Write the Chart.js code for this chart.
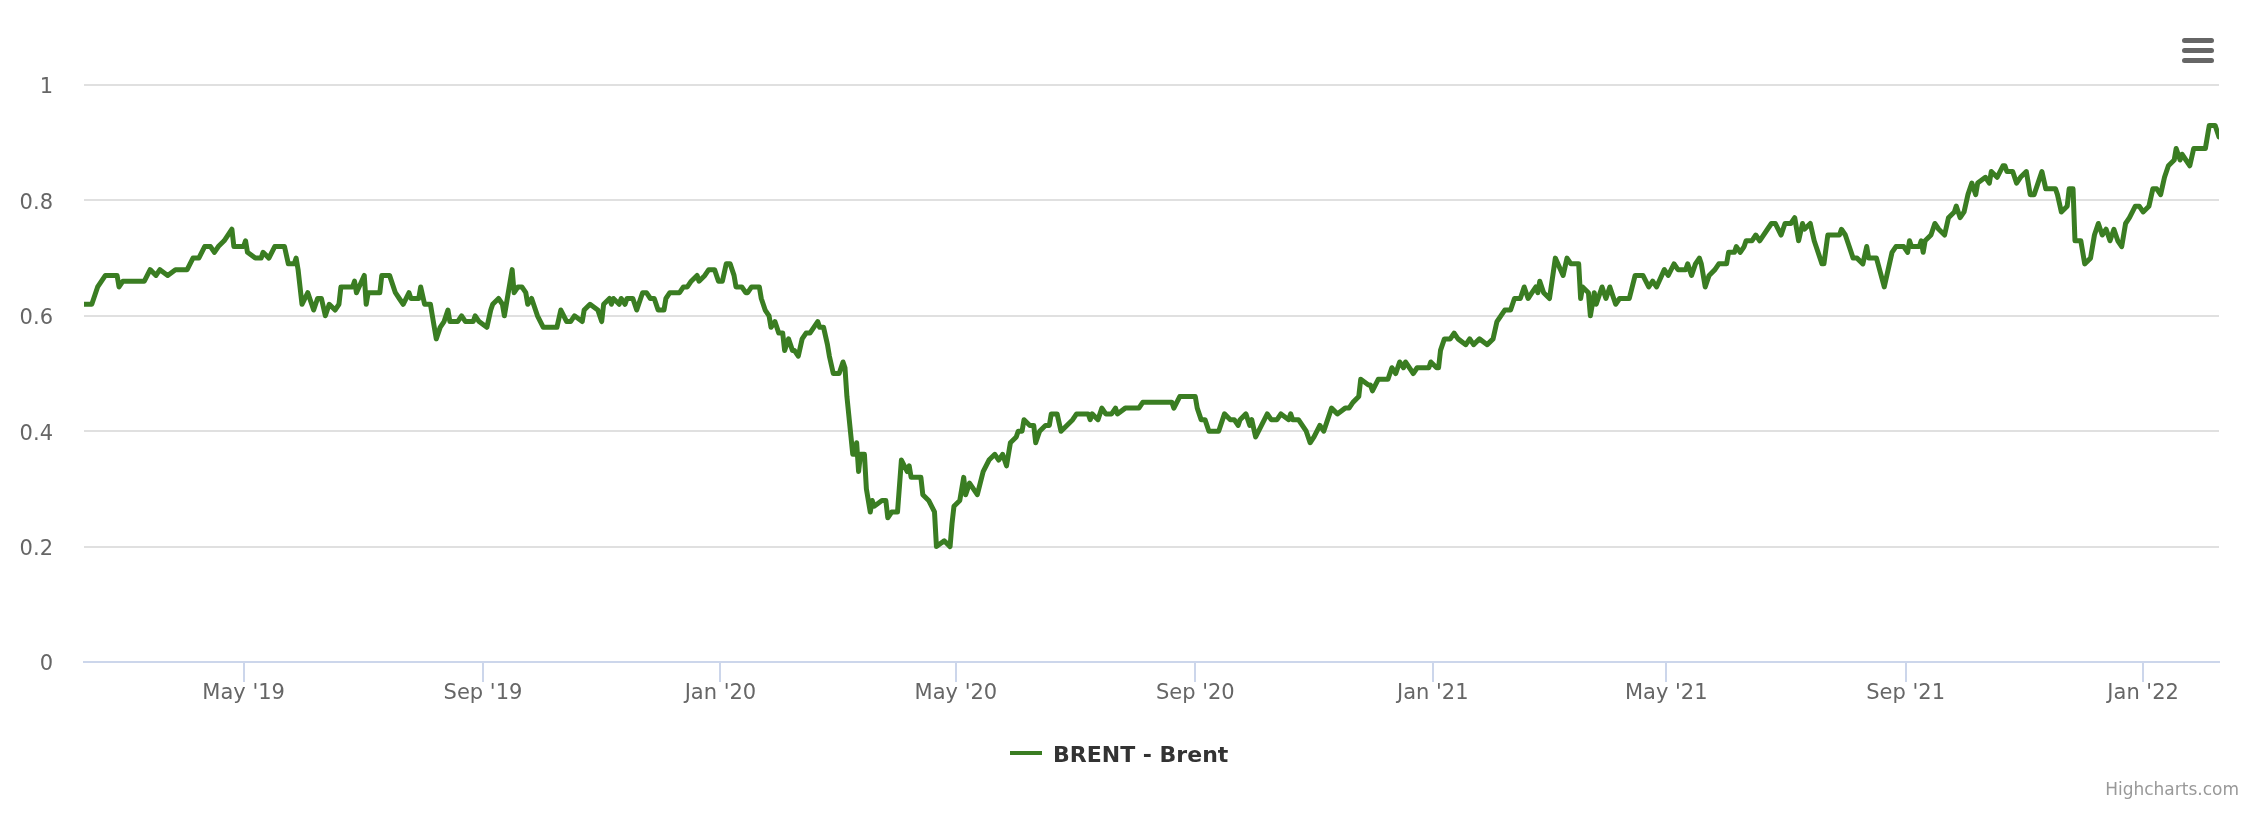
<!DOCTYPE html>
<html>
<head>
<meta charset="utf-8">
<script src="https://cdn.jsdelivr.net/npm/chart.js@4.4.1/dist/chart.umd.min.js"></script>
<style>
  html, body { margin: 0; padding: 0; background: #ffffff; }
  #wrap { position: relative; width: 2260px; height: 820px; overflow: hidden; font-family: "DejaVu Sans", sans-serif; }
  #chartBox { position: absolute; left: 0; top: 0; width: 2260px; height: 820px; }
  .bar { position: absolute; left: 2182px; width: 32px; height: 5px; border-radius: 3px; background: #666666; }
  #legSym { position: absolute; left: 1010px; top: 751px; width: 32px; height: 4px; }
  #legText { position: absolute; left: 1053px; top: 744px; font: 700 22px/22px "DejaVu Sans", sans-serif; color: #333333; white-space: nowrap; }
  #credits { position: absolute; right: 21px; top: 781px; font: 17px/17px "DejaVu Sans", sans-serif; color: #999999; white-space: nowrap; }
</style>
</head>
<body>
<div id="wrap">
  <div id="chartBox"><canvas id="c"></canvas></div>
  <div class="bar" style="top:38px"></div>
  <div class="bar" style="top:48px"></div>
  <div class="bar" style="top:58px"></div>
  <div id="legSym"></div>
  <div id="legText"></div>
  <div id="credits">Highcharts.com</div>
</div>
<script>
const seriesName = 'BRENT - Brent';
const lineColor = '#3a7d22';

const dates = [
  '2019-02-08','2019-02-12','2019-02-15','2019-02-17','2019-02-19','2019-02-25','2019-02-26','2019-02-28',
  '2019-03-11','2019-03-14','2019-03-17','2019-03-19','2019-03-23','2019-03-27',
  '2019-04-02','2019-04-05','2019-04-08','2019-04-11','2019-04-14','2019-04-16','2019-04-18','2019-04-21','2019-04-25','2019-04-26',
  '2019-05-01','2019-05-02','2019-05-03','2019-05-07','2019-05-10','2019-05-11','2019-05-14','2019-05-17','2019-05-22','2019-05-24','2019-05-27','2019-05-28','2019-05-29','2019-05-31',
  '2019-06-03','2019-06-04','2019-06-06','2019-06-08','2019-06-10','2019-06-12','2019-06-14','2019-06-17','2019-06-19','2019-06-20','2019-06-26','2019-06-27','2019-06-28',
  '2019-07-02','2019-07-03','2019-07-04','2019-07-10','2019-07-11','2019-07-15','2019-07-18','2019-07-20','2019-07-22','2019-07-25','2019-07-26','2019-07-30','2019-07-31',
  '2019-08-02','2019-08-05','2019-08-06','2019-08-08','2019-08-10','2019-08-12','2019-08-14','2019-08-15','2019-08-19','2019-08-21','2019-08-23','2019-08-27','2019-08-28','2019-08-30',
  '2019-09-03','2019-09-05','2019-09-06','2019-09-09','2019-09-11','2019-09-12','2019-09-13','2019-09-16','2019-09-17','2019-09-19','2019-09-21','2019-09-23','2019-09-24','2019-09-26','2019-09-27','2019-09-29',
  '2019-10-02','2019-10-09','2019-10-11','2019-10-14','2019-10-16','2019-10-18','2019-10-22','2019-10-23','2019-10-26','2019-10-30',
  '2019-11-01','2019-11-02','2019-11-05','2019-11-06','2019-11-07','2019-11-10','2019-11-11','2019-11-13','2019-11-14','2019-11-17','2019-11-19','2019-11-22','2019-11-24','2019-11-26','2019-11-28','2019-11-30',
  '2019-12-03','2019-12-04','2019-12-06','2019-12-11','2019-12-13','2019-12-15','2019-12-17','2019-12-20','2019-12-21','2019-12-24','2019-12-26','2019-12-29','2019-12-31',
  '2020-01-02','2020-01-04','2020-01-06','2020-01-08','2020-01-09','2020-01-12','2020-01-14','2020-01-15','2020-01-17','2020-01-21','2020-01-22','2020-01-24','2020-01-26','2020-01-27','2020-01-29','2020-01-31',
  '2020-02-02','2020-02-03','2020-02-05','2020-02-07','2020-02-08','2020-02-10','2020-02-12','2020-02-14','2020-02-16','2020-02-18','2020-02-20','2020-02-21','2020-02-23','2020-02-25','2020-02-26','2020-02-28',
  '2020-03-02','2020-03-04','2020-03-05','2020-03-06','2020-03-09','2020-03-10','2020-03-11','2020-03-12','2020-03-13','2020-03-15','2020-03-16','2020-03-18','2020-03-19','2020-03-20','2020-03-24','2020-03-26','2020-03-27','2020-03-29',
  '2020-04-01','2020-04-03','2020-04-06','2020-04-07','2020-04-08','2020-04-13','2020-04-14','2020-04-17','2020-04-20','2020-04-21','2020-04-25','2020-04-28','2020-04-29','2020-04-30',
  '2020-05-03','2020-05-05','2020-05-06','2020-05-08','2020-05-12','2020-05-15','2020-05-18','2020-05-21','2020-05-23','2020-05-25','2020-05-27','2020-05-29',
  '2020-06-01','2020-06-02','2020-06-04','2020-06-05','2020-06-08','2020-06-10','2020-06-11','2020-06-13','2020-06-16','2020-06-18','2020-06-19','2020-06-22','2020-06-24','2020-06-27','2020-06-30',
  '2020-07-02','2020-07-08','2020-07-09','2020-07-10','2020-07-13','2020-07-15','2020-07-17','2020-07-20','2020-07-22','2020-07-23','2020-07-27',
  '2020-08-03','2020-08-05','2020-08-20','2020-08-21','2020-08-24',
  '2020-09-01','2020-09-02','2020-09-04','2020-09-06','2020-09-08','2020-09-13','2020-09-16','2020-09-19','2020-09-21','2020-09-23','2020-09-24','2020-09-27','2020-09-29','2020-09-30',
  '2020-10-02','2020-10-05','2020-10-08','2020-10-10','2020-10-13','2020-10-15','2020-10-19','2020-10-20','2020-10-21','2020-10-24','2020-10-26','2020-10-28','2020-10-30',
  '2020-11-01','2020-11-04','2020-11-06','2020-11-08','2020-11-10','2020-11-13','2020-11-17','2020-11-19','2020-11-21','2020-11-24','2020-11-25','2020-11-29','2020-11-30',
  '2020-12-01','2020-12-04','2020-12-09','2020-12-11','2020-12-13','2020-12-15','2020-12-17','2020-12-18','2020-12-22','2020-12-24','2020-12-30','2020-12-31',
  '2021-01-03','2021-01-04','2021-01-05','2021-01-07','2021-01-10','2021-01-12','2021-01-14','2021-01-18','2021-01-20','2021-01-22','2021-01-25','2021-01-29',
  '2021-02-01','2021-02-03','2021-02-05','2021-02-07','2021-02-10','2021-02-12','2021-02-15','2021-02-17','2021-02-19','2021-02-21','2021-02-23','2021-02-24','2021-02-25','2021-02-27',
  '2021-03-02','2021-03-05','2021-03-09','2021-03-11','2021-03-13','2021-03-17','2021-03-18','2021-03-19','2021-03-22','2021-03-23','2021-03-25','2021-03-26','2021-03-29','2021-03-31',
  '2021-04-02','2021-04-05','2021-04-07','2021-04-12','2021-04-15','2021-04-19','2021-04-22','2021-04-24','2021-04-26','2021-04-30',
  '2021-05-02','2021-05-05','2021-05-07','2021-05-11','2021-05-12','2021-05-14','2021-05-16','2021-05-18','2021-05-19','2021-05-21','2021-05-23','2021-05-26','2021-05-28',
  '2021-06-01','2021-06-02','2021-06-05','2021-06-06','2021-06-08','2021-06-10','2021-06-11','2021-06-14','2021-06-16','2021-06-18','2021-06-22','2021-06-24','2021-06-26','2021-06-29',
  '2021-07-01','2021-07-04','2021-07-06','2021-07-08','2021-07-10','2021-07-11','2021-07-14','2021-07-16','2021-07-17','2021-07-20','2021-07-21','2021-07-23','2021-07-29','2021-07-30',
  '2021-08-01','2021-08-03','2021-08-05','2021-08-07','2021-08-10','2021-08-12','2021-08-13','2021-08-17','2021-08-21','2021-08-23','2021-08-25','2021-08-27','2021-08-31',
  '2021-09-02','2021-09-03','2021-09-04','2021-09-08','2021-09-09','2021-09-10','2021-09-11','2021-09-14','2021-09-16','2021-09-18','2021-09-21','2021-09-23','2021-09-26','2021-09-27','2021-09-29',
  '2021-10-01','2021-10-03','2021-10-05','2021-10-07','2021-10-08','2021-10-12','2021-10-14','2021-10-15','2021-10-18','2021-10-21','2021-10-22','2021-10-23','2021-10-26','2021-10-28','2021-10-30',
  '2021-11-02','2021-11-04','2021-11-06','2021-11-08','2021-11-10','2021-11-12','2021-11-17','2021-11-18','2021-11-20','2021-11-23','2021-11-24','2021-11-26','2021-11-27','2021-11-30',
  '2021-12-02','2021-12-05','2021-12-07','2021-12-09','2021-12-11','2021-12-13','2021-12-15','2021-12-17','2021-12-19','2021-12-21','2021-12-23','2021-12-25','2021-12-28','2021-12-30',
  '2022-01-01','2022-01-04','2022-01-06','2022-01-08','2022-01-10','2022-01-12','2022-01-13','2022-01-14','2022-01-17','2022-01-18','2022-01-20','2022-01-21','2022-01-23','2022-01-25','2022-01-27',
  '2022-02-02','2022-02-04','2022-02-07','2022-02-09'
];

const brent = [
  0.62,0.62,0.65,0.66,0.67,0.67,0.65,0.66,
  0.66,0.68,0.67,0.68,0.67,0.68,
  0.68,0.70,0.70,0.72,0.72,0.71,0.72,0.73,0.75,0.72,
  0.72,0.73,0.71,0.70,0.70,0.71,0.70,0.72,0.72,0.69,0.69,0.70,0.68,0.62,
  0.64,0.63,0.61,0.63,0.63,0.60,0.62,0.61,0.62,0.65,0.65,0.66,0.64,
  0.67,0.62,0.64,0.64,0.67,0.67,0.64,0.63,0.62,0.64,0.63,0.63,0.65,
  0.62,0.62,0.60,0.56,0.58,0.59,0.61,0.59,0.59,0.60,0.59,0.59,0.60,0.59,
  0.58,0.61,0.62,0.63,0.62,0.60,0.62,0.68,0.64,0.65,0.65,0.64,0.62,0.63,0.62,0.60,
  0.58,0.58,0.61,0.59,0.59,0.60,0.59,0.61,0.62,0.61,
  0.59,0.62,0.63,0.62,0.63,0.62,0.63,0.62,0.63,0.63,0.61,0.64,0.64,0.63,0.63,0.61,
  0.61,0.63,0.64,0.64,0.65,0.65,0.66,0.67,0.66,0.67,0.68,0.68,0.66,
  0.66,0.69,0.69,0.67,0.65,0.65,0.64,0.64,0.65,0.65,0.63,0.61,0.60,0.58,0.59,0.57,
  0.57,0.54,0.56,0.54,0.54,0.53,0.56,0.57,0.57,0.58,0.59,0.58,0.58,0.55,0.53,0.50,
  0.50,0.52,0.51,0.46,0.36,0.36,0.38,0.33,0.36,0.36,0.30,0.26,0.28,0.27,0.28,0.28,0.25,0.26,
  0.26,0.35,0.33,0.34,0.32,0.32,0.29,0.28,0.26,0.20,0.21,0.20,0.24,0.27,
  0.28,0.32,0.29,0.31,0.29,0.33,0.35,0.36,0.35,0.36,0.34,0.38,
  0.39,0.40,0.40,0.42,0.41,0.41,0.38,0.40,0.41,0.41,0.43,0.43,0.40,0.41,0.42,
  0.43,0.43,0.42,0.43,0.42,0.44,0.43,0.43,0.44,0.43,0.44,
  0.44,0.45,0.45,0.44,0.46,
  0.46,0.44,0.42,0.42,0.40,0.40,0.43,0.42,0.42,0.41,0.42,0.43,0.41,0.42,
  0.39,0.41,0.43,0.42,0.42,0.43,0.42,0.43,0.42,0.42,0.41,0.40,0.38,
  0.39,0.41,0.40,0.42,0.44,0.43,0.44,0.44,0.45,0.46,0.49,0.48,0.48,
  0.47,0.49,0.49,0.51,0.50,0.52,0.51,0.52,0.50,0.51,0.51,0.52,
  0.51,0.51,0.54,0.56,0.56,0.57,0.56,0.55,0.56,0.55,0.56,0.55,
  0.56,0.59,0.60,0.61,0.61,0.63,0.63,0.65,0.63,0.64,0.65,0.64,0.66,0.64,
  0.63,0.70,0.67,0.70,0.69,0.69,0.63,0.65,0.64,0.60,0.64,0.62,0.65,0.63,
  0.65,0.62,0.63,0.63,0.67,0.67,0.65,0.66,0.65,0.68,
  0.67,0.69,0.68,0.68,0.69,0.67,0.69,0.70,0.69,0.65,0.67,0.68,0.69,
  0.69,0.71,0.71,0.72,0.71,0.72,0.73,0.73,0.74,0.73,0.75,0.76,0.76,0.74,
  0.76,0.76,0.77,0.73,0.76,0.75,0.76,0.73,0.72,0.69,0.69,0.74,0.74,0.75,
  0.74,0.72,0.70,0.70,0.69,0.72,0.70,0.70,0.65,0.68,0.71,0.72,0.72,
  0.71,0.73,0.72,0.72,0.73,0.71,0.73,0.74,0.76,0.75,0.74,0.77,0.78,0.79,0.77,
  0.78,0.81,0.83,0.81,0.83,0.84,0.83,0.85,0.84,0.86,0.86,0.85,0.85,0.83,0.84,
  0.85,0.81,0.81,0.83,0.85,0.82,0.82,0.81,0.78,0.79,0.82,0.82,0.73,0.73,
  0.69,0.70,0.74,0.76,0.74,0.75,0.73,0.75,0.73,0.72,0.76,0.77,0.79,0.79,
  0.78,0.79,0.82,0.82,0.81,0.84,0.85,0.86,0.87,0.89,0.87,0.88,0.87,0.86,0.89,
  0.89,0.93,0.93,0.91
];

const xTickDates = ['2019-05-01','2019-09-01','2020-01-01','2020-05-01','2020-09-01','2021-01-01','2021-05-01','2021-09-01','2022-01-01'];
const xTickLabels = ["May '19","Sep '19","Jan '20","May '20","Sep '20","Jan '21","May '21","Sep '21","Jan '22"];
const yTickValues = [0, 0.2, 0.4, 0.6, 0.8, 1];
const yTickLabels = ['0', '0.2', '0.4', '0.6', '0.8', '1'];

const ts = s => Date.parse(s + 'T00:00:00Z');
const points = dates.map((d, i) => ({ x: ts(d), y: brent[i] }));

document.getElementById('legSym').style.background = lineColor;
document.getElementById('legText').textContent = seriesName;

const tickFont = { family: '"DejaVu Sans", sans-serif', size: 21 };

new Chart(document.getElementById('c'), {
  type: 'line',
  data: {
    datasets: [{
      label: seriesName,
      data: points,
      borderColor: lineColor,
      backgroundColor: lineColor,
      borderWidth: 5,
      pointRadius: 0,
      pointHoverRadius: 0,
      tension: 0,
      fill: false,
      borderJoinStyle: 'round',
      borderCapStyle: 'round'
    }]
  },
  options: {
    responsive: true,
    maintainAspectRatio: false,
    animation: false,
    devicePixelRatio: 1,
    events: [],
    layout: { padding: { left: 0, right: 41, top: 85, bottom: 98 } },
    plugins: { legend: { display: false }, tooltip: { enabled: false } },
    scales: {
      x: {
        type: 'linear',
        min: ts(dates[0]),
        max: ts(dates[dates.length - 1]),
        afterBuildTicks: s => { s.ticks = xTickDates.map(d => ({ value: ts(d) })); },
        afterFit: s => { s.height = 60; },
        ticks: {
          autoSkip: false, maxRotation: 0, minRotation: 0, padding: -1,
          color: '#666666', font: tickFont,
          callback: (v, i) => xTickLabels[i]
        },
        grid: { drawOnChartArea: false, drawTicks: true, tickLength: 20, color: '#ccd6eb', lineWidth: 2 },
        border: { display: true, color: '#ccd6eb', width: 2 }
      },
      y: {
        type: 'linear',
        min: 0,
        max: 1,
        afterBuildTicks: s => { s.ticks = yTickValues.map(v => ({ value: v })); },
        afterFit: s => { s.width = 84; },
        ticks: {
          padding: 31, labelOffset: 3, color: '#666666', font: tickFont,
          callback: (v, i) => yTickLabels[i]
        },
        grid: {
          drawTicks: false,
          lineWidth: 2,
          color: c => (c.tick && c.tick.value === 0) ? 'rgba(0,0,0,0)' : '#e0e0e0'
        },
        border: { display: false }
      }
    }
  }
});
</script>
</body>
</html>
